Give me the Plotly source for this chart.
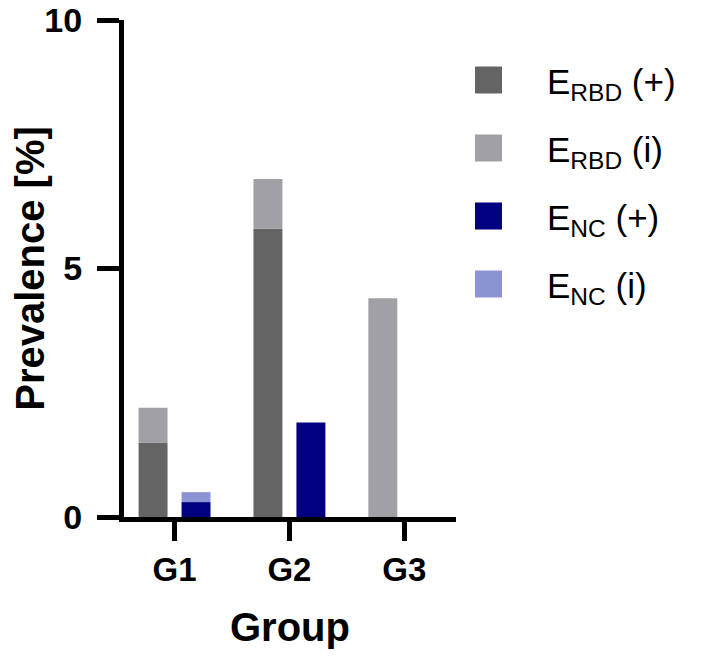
import plotly.graph_objects as go

groups = ["G1", "G2", "G3"]
rbd_pos = [1.5, 5.8, 0.0]
rbd_ind = [0.7, 1.0, 4.4]
nc_pos = [0.3, 1.9, 0.0]
nc_ind = [0.2, 0.0, 0.0]

names = ["E<sub>RBD</sub> (+)", "E<sub>RBD</sub> (i)", "E<sub>NC</sub> (+)", "E<sub>NC</sub> (i)"]
colors = ["#646464", "#a1a1a5", "#000080", "#8c93d2"]

FONT = "Liberation Sans, Arial, sans-serif"

# page body adds an 8px offset; plot area in figure coords:
L, R, T, B = 116, 448, 12, 509
PW, PH = R - L, B - T

fig = go.Figure()
fig.add_bar(x=groups, y=rbd_pos, marker_color=colors[0], offsetgroup="rbd", name=names[0], showlegend=False)
fig.add_bar(x=groups, y=rbd_ind, base=rbd_pos, marker_color=colors[1], offsetgroup="rbd", name=names[1], showlegend=False)
fig.add_bar(x=groups, y=nc_pos, marker_color=colors[2], offsetgroup="nc", name=names[2], showlegend=False)
fig.add_bar(x=groups, y=nc_ind, base=nc_pos, marker_color=colors[3], offsetgroup="nc", name=names[3], showlegend=False)
fig.update_traces(marker_line_width=0)

# manual legend with large square swatches
for i, (nm, col) in enumerate(zip(names, colors)):
    yc = 72 + i * 68
    fig.add_shape(type="rect", xref="paper", yref="paper",
                  x0=(467 - L) / PW, x1=(494 - L) / PW,
                  y0=(B - (yc + 13.5)) / PH, y1=(B - (yc - 13.5)) / PH,
                  fillcolor=col, line_width=0)
    fig.add_annotation(text=nm, xref="paper", yref="paper",
                       x=(537 - L) / PW, y=(B - yc - 4) / PH,
                       xanchor="left", yanchor="middle", showarrow=False,
                       font=dict(family=FONT, size=35, color="black"))

fig.update_layout(
    barmode="group",
    bargap=0.252,
    bargroupgap=0.326,
    width=709, height=659,
    margin=dict(l=L, r=709 - R, t=T, b=659 - B, autoexpand=False),
    plot_bgcolor="white", paper_bgcolor="white",
    font=dict(family=FONT, color="black"),
    showlegend=False,
)
fig.update_xaxes(
    automargin=False,
    range=[-0.44, 2.45],
    showline=True, linecolor="black", linewidth=5,
    ticks="outside", ticklen=19, tickwidth=5, tickcolor="black",
    ticklabeloverflow="allow",
    tickfont=dict(family=FONT, size=33, color="black"),
    title=dict(text="<b>Group</b>", font=dict(family=FONT, size=40, color="black"), standoff=28),
    showgrid=False, zeroline=False,
)
fig.update_yaxes(
    automargin=False,
    range=[0, 10],
    tickvals=[0, 5, 10], ticktext=["<b>0</b>", "<b>5</b>", "<b>10</b>"],
    showline=True, linecolor="black", linewidth=5,
    ticks="outside", ticklen=22, tickwidth=5, tickcolor="black",
    ticklabelstandoff=8, ticklabeloverflow="allow",
    tickfont=dict(family=FONT, size=34, color="black"),
    title=dict(text="<b>Prevalence [%]</b>", font=dict(family=FONT, size=40, color="black"), standoff=14),
    showgrid=False, zeroline=False,
)
fig.update_xaxes(tickvals=groups, ticktext=["<b>" + g + "</b>" for g in groups])

fig.write_html("out.html")
